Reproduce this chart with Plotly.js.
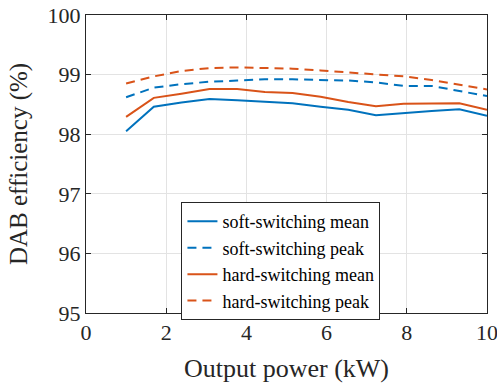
<!DOCTYPE html>
<html>
<head>
<meta charset="utf-8">
<script src="https://cdn.plot.ly/plotly-3.0.1.min.js"></script>
<style>html,body{margin:0;padding:0;background:#fff;}#plot{width:497px;height:383px;}</style>
</head>
<body>
<div id="plot"></div>
<script>
// Output power (kW)
const power = [1, 1.69, 2.38, 3.08, 3.77, 4.46, 5.15, 5.85, 6.54, 7.23, 7.92, 8.62, 9.31, 10];
const softMean = [98.05, 98.46, 98.53, 98.59, 98.57, 98.54, 98.52, 98.46, 98.41, 98.32, 98.36, 98.39, 98.42, 98.31];
const softPeak = [98.62, 98.78, 98.84, 98.88, 98.90, 98.92, 98.92, 98.91, 98.90, 98.87, 98.81, 98.81, 98.72, 98.64];
const hardMean = [98.29, 98.61, 98.68, 98.76, 98.76, 98.71, 98.69, 98.63, 98.54, 98.47, 98.51, 98.52, 98.52, 98.41];
const hardPeak = [98.85, 98.97, 99.06, 99.11, 99.12, 99.11, 99.10, 99.07, 99.04, 99.00, 98.97, 98.91, 98.83, 98.75];
const seriesNames = ['soft-switching mean', 'soft-switching peak', 'hard-switching mean', 'hard-switching peak'];
const xTicks = [0, 2, 4, 6, 8, 10];
const yTicks = [95, 96, 97, 98, 99, 100];

const blue = '#0072BD', orange = '#D95319';
const font = "Liberation Serif, DejaVu Serif, serif";

const traces = [
  {x: power, y: softMean, name: seriesNames[0], mode: 'lines', line: {color: blue, width: 2, dash: 'solid'}},
  {x: power, y: softPeak, name: seriesNames[1], mode: 'lines', line: {color: blue, width: 2, dash: '9px,6px'}},
  {x: power, y: hardMean, name: seriesNames[2], mode: 'lines', line: {color: orange, width: 2, dash: 'solid'}},
  {x: power, y: hardPeak, name: seriesNames[3], mode: 'lines', line: {color: orange, width: 2, dash: '9px,6px'}}
];

const axisCommon = {
  showline: true, linecolor: '#262626', linewidth: 1, mirror: 'ticks',
  ticks: 'inside', ticklen: 5, tickcolor: '#262626',
  showgrid: true, gridcolor: '#e3e3e3', gridwidth: 1,
  zeroline: false, tickfont: {family: font, size: 22, color: '#262626'},
  ticklabeloverflow: 'allow'
};

const layout = {
  width: 497, height: 383,
  margin: {l: 86, r: 10, t: 15, b: 70},
  paper_bgcolor: '#fff', plot_bgcolor: '#fff',
  font: {family: font, color: '#262626'},
  xaxis: Object.assign({}, axisCommon, {
    range: [0, 10], tickvals: xTicks, ticktext: xTicks.map(String),
    title: {text: 'Output power (kW)', font: {family: font, size: 26, color: '#262626'}, standoff: 15}
  }),
  yaxis: Object.assign({}, axisCommon, {
    range: [95, 100], tickvals: yTicks, ticktext: yTicks.map(String),
    title: {text: 'DAB efficiency (%)', font: {family: font, size: 25, color: '#262626'}, standoff: 12}
  }),
  showlegend: true,
  legend: {
    x: 0.238, y: 0.372, xanchor: 'left', yanchor: 'top',
    bgcolor: '#fff', bordercolor: '#262626', borderwidth: 1,
    font: {family: font, size: 18, color: '#000'},
    tracegroupgap: 0, itemwidth: 30
  }
};

Plotly.newPlot('plot', traces, layout, {displayModeBar: false, staticPlot: true});
</script>
</body>
</html>
